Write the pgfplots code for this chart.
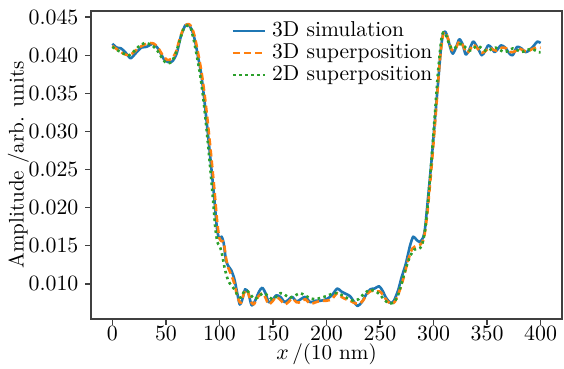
\documentclass[border=0pt]{standalone}
\usepackage{pgfplots}
\pgfplotsset{compat=1.18}
\definecolor{tabblue}{HTML}{1F77B4}
\definecolor{taborange}{HTML}{FF7F0E}
\definecolor{tabgreen}{HTML}{2CA02C}
\begin{document}
\begin{tikzpicture}
\begin{axis}[
  scale only axis,
  width=235.5bp, height=154bp,
  xmin=-20, xmax=420,
  ymin=0.0054, ymax=0.0458,
  xtick={0,50,...,400},
  ytick={0.010,0.015,...,0.0451},
  scaled y ticks=false,
  yticklabel style={/pgf/number format/fixed,/pgf/number format/fixed zerofill,/pgf/number format/precision=3},
  xticklabel style={yshift=2.5bp},
  tick label style={font=\fontsize{11}{13}\selectfont},
  label style={font=\fontsize{10.6}{13}\selectfont},
  xlabel={$x$\,/(10 nm)},
  ylabel={Amplitude /arb. units},
  xlabel style={yshift=5.3bp},
  ylabel style={yshift=-7bp},
  axis line style={black!75, line width=0.6bp},
  tick style={black!75, line width=0.6bp},
  tick align=outside,
  xtick pos=bottom, ytick pos=left,
  major tick length=2.8bp,
  legend style={at={(0.285,0.985)}, anchor=north west, draw=none, fill=none,
    font=\fontsize{10.8}{12}\selectfont,
    nodes={inner sep=0.5bp, text height=7.6bp, text depth=2.4bp},
    /tikz/every odd column/.append style={column sep=2.5bp}},
  legend image code/.code={\draw[#1] (0bp,0bp)--(16bp,0bp);},
  legend cell align=left,
  every axis plot/.append style={line width=1.3bp, line join=round},
]
\addplot[tabblue, smooth, tension=0.4] coordinates {
(0,0.0415)(4,0.0410)(8,0.0409)(12,0.0404)(17,0.0396)(22,0.0403)(27,0.0410)(32,0.0411)(38,0.0415)(43,0.0408)(48,0.0395)(52,0.0391)(56,0.0392)(60,0.0402)(64,0.0425)(68,0.0439)(71,0.0440)(74,0.0434)(77,0.0420)(80,0.0398)(83,0.0375)(86,0.0340)(89,0.0300)(92,0.0258)(95,0.0215)(97.5,0.0175)(99.5,0.0160)(102,0.0162)(104,0.0153)(106,0.0132)(108,0.0124)(111,0.0118)(114,0.0106)(117,0.0085)(119,0.0073)(121,0.0078)(124,0.0093)(127,0.0088)(130,0.0072)(133,0.0077)(137,0.0090)(140,0.0095)(143,0.0088)(146,0.0076)(149,0.0078)(153,0.0085)(157,0.0083)(161,0.0076)(165,0.0080)(168,0.0083)(172,0.0077)(176,0.0080)(180,0.0083)(185,0.0076)(190,0.0078)(195,0.0078)(200,0.0080)(205,0.0085)(210,0.0094)(214,0.0090)(218,0.0087)(222,0.0084)(226,0.0076)(229,0.0071)(233,0.0076)(237,0.0086)(241,0.0093)(245,0.0094)(249,0.0097)(252,0.0092)(256,0.0081)(260,0.0075)(263,0.0078)(267,0.0092)(270,0.0108)(274,0.0126)(278,0.0150)(281,0.0162)(284,0.0158)(287,0.0155)(290,0.0160)(292,0.0172)(295,0.0215)(298,0.0260)(301,0.0310)(304,0.0360)(307,0.0410)(309,0.0428)(311,0.0431)(313,0.0424)(316,0.0408)(318,0.0402)(321,0.0410)(324,0.0421)(327,0.0415)(330,0.0401)(333,0.0406)(337,0.0418)(341,0.0410)(345,0.0400)(348,0.0405)(351,0.0413)(354,0.0410)(357,0.0404)(360,0.0408)(363,0.0413)(367,0.0410)(371,0.0402)(374,0.0400)(378,0.0411)(382,0.0409)(386,0.0404)(390,0.0407)(394,0.0413)(397,0.0418)(400,0.0416)
};
\addlegendentry{3D simulation}
\addplot[taborange, smooth, tension=0.4, dash pattern=on 3.5bp off 2bp] coordinates {
(0,0.0412)(4,0.0408)(8,0.0404)(12,0.0401)(16,0.0400)(20,0.0404)(25,0.0410)(30,0.0414)(35,0.0416)(39,0.0415)(43,0.0409)(47,0.0400)(51,0.0394)(55,0.0395)(59,0.0403)(63,0.0422)(67,0.0437)(71,0.0441)(74,0.0437)(77,0.0424)(80,0.0403)(83,0.0380)(86,0.0350)(89,0.0313)(92,0.0272)(95,0.0228)(98,0.0180)(100,0.0160)(102,0.0156)(104,0.0155)(106,0.0135)(108,0.0122)(111,0.0112)(114,0.0100)(117,0.0082)(120,0.0075)(123,0.0088)(126,0.0092)(129,0.0078)(132,0.0073)(136,0.0083)(140,0.0088)(143,0.0082)(146,0.0073)(150,0.0078)(153,0.0083)(157,0.0079)(161,0.0073)(165,0.0077)(168,0.0081)(172,0.0076)(176,0.0076)(180,0.0080)(185,0.0074)(190,0.0076)(195,0.0078)(200,0.0078)(205,0.0080)(210,0.0088)(214,0.0083)(218,0.0080)(222,0.0078)(226,0.0075)(230,0.0074)(234,0.0078)(238,0.0087)(242,0.0091)(246,0.0090)(250,0.0090)(253,0.0085)(257,0.0077)(261,0.0074)(264,0.0077)(268,0.0090)(272,0.0108)(276,0.0130)(280,0.0146)(284,0.0150)(288,0.0152)(291,0.0160)(294,0.0190)(297,0.0235)(300,0.0285)(303,0.0340)(306,0.0395)(309,0.0428)(311,0.0430)(314,0.0420)(317,0.0407)(320,0.0407)(324,0.0418)(327,0.0414)(331,0.0403)(334,0.0407)(337,0.0414)(341,0.0409)(345,0.0403)(349,0.0406)(352,0.0410)(356,0.0407)(360,0.0406)(364,0.0410)(368,0.0409)(372,0.0404)(376,0.0405)(380,0.0409)(384,0.0406)(388,0.0405)(392,0.0408)(396,0.0410)(400,0.0410)
};
\addlegendentry{3D superposition}
\addplot[tabgreen, smooth, tension=0.4, dash pattern=on 1.3bp off 1.7bp] coordinates {
(0,0.0411)(4,0.0407)(8,0.0404)(12,0.0401)(16,0.0400)(20,0.0405)(25,0.0412)(30,0.0416)(34,0.0415)(38,0.0412)(42,0.0406)(46,0.0397)(50,0.0390)(54,0.0390)(58,0.0398)(62,0.0415)(66,0.0433)(70,0.0439)(73,0.0436)(76,0.0420)(79,0.0398)(82,0.0374)(85,0.0342)(88,0.0302)(91,0.0258)(94,0.0210)(96,0.0175)(98,0.0155)(100,0.0150)(102,0.0142)(105,0.0120)(108,0.0105)(111,0.0098)(114,0.0093)(117,0.0085)(120,0.0082)(123,0.0090)(126,0.0091)(129,0.0086)(133,0.0080)(137,0.0084)(141,0.0088)(145,0.0085)(149,0.0080)(153,0.0083)(157,0.0088)(161,0.0086)(165,0.0082)(170,0.0084)(175,0.0088)(180,0.0085)(185,0.0081)(190,0.0080)(195,0.0082)(200,0.0084)(205,0.0087)(210,0.0088)(215,0.0085)(220,0.0081)(225,0.0078)(230,0.0080)(235,0.0087)(240,0.0092)(245,0.0091)(250,0.0086)(254,0.0079)(258,0.0075)(262,0.0075)(266,0.0082)(270,0.0100)(274,0.0120)(278,0.0136)(282,0.0145)(286,0.0146)(289,0.0150)(292,0.0170)(295,0.0210)(298,0.0262)(301,0.0318)(304,0.0375)(307,0.0418)(309,0.0430)(312,0.0425)(315,0.0413)(318,0.0408)(322,0.0412)(326,0.0415)(330,0.0410)(334,0.0406)(338,0.0410)(342,0.0412)(346,0.0408)(350,0.0405)(354,0.0408)(358,0.0410)(362,0.0407)(366,0.0404)(370,0.0406)(374,0.0409)(378,0.0407)(382,0.0404)(386,0.0406)(390,0.0408)(394,0.0407)(398,0.0404)(400,0.0404)
};
\addlegendentry{2D superposition}
\end{axis}
\pgfresetboundingbox
\path[use as bounding box] ([xshift=-45.5bp,yshift=-25bp]current axis.south west) rectangle ([xshift=1bp,yshift=5.5bp]current axis.north east);
\end{tikzpicture}
\end{document}
